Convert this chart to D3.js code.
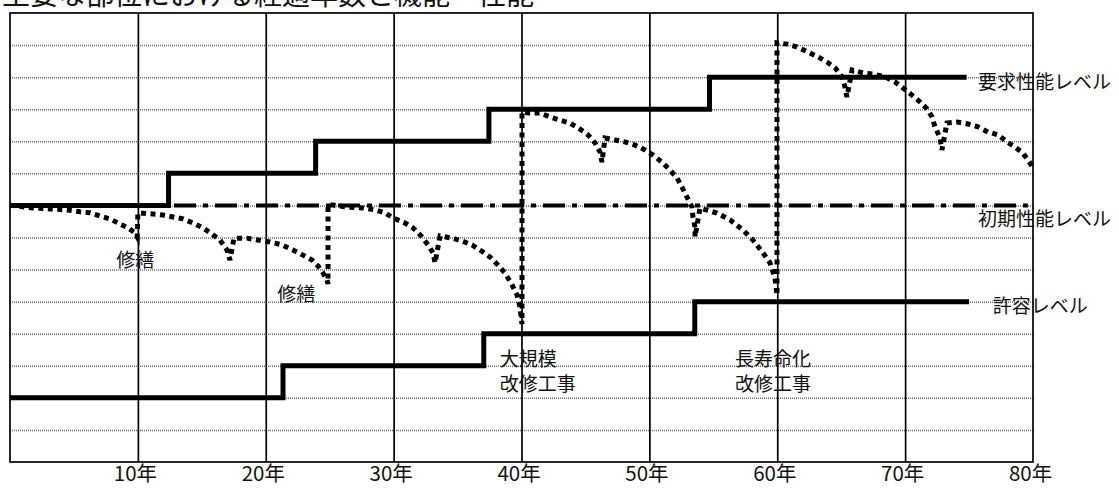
<!DOCTYPE html>
<html><head><meta charset="utf-8">
<script src="https://cdn.jsdelivr.net/npm/d3@7"></script>
<style>html,body{margin:0;padding:0;background:#fff;overflow:hidden}</style>
</head><body>
<svg id="c" width="1119" height="489"></svg>
<script>
const title = "主要な部位における経過年数と機能・性能";
const yearTicks = [10, 20, 30, 40, 50, 60, 70, 80];
const tickLabels = ["10年", "20年", "30年", "40年", "50年", "60年", "70年", "80年"];
const levelTicks = [1,2,3,4,5,6,7,8,9,10,11,12,13];
const initialLevel = 8;
const initialEnd = 79.6;
const requiredSteps = [[0,8],[12.4,9],[23.9,10],[37.45,11],[54.7,12],[74.8,12]];
const allowableSteps = [[0,2],[21.35,3],[37.05,4],[53.55,5],[75,5]];
const performance = [
 [0,8.01],[1.8,7.92],[3.13,7.89],[4.46,7.86],[5.47,7.8],[6.26,7.77],[7.04,7.67],[7.82,7.58],[8.45,7.45],[9.23,7.3],[9.78,7.14],[9.95,7.02],
 [10.0,7.76],[10.4,7.76],[11.18,7.73],[11.96,7.7],[12.75,7.64],[13.53,7.58],[14.31,7.45],[15.09,7.3],[15.8,7.11],[16.42,6.92],[16.97,6.61],[17.2,6.3],
 [17.52,6.98],[18.53,6.98],[19.39,6.92],[20.33,6.86],[21.27,6.77],[22.13,6.61],[22.91,6.45],[23.62,6.3],[24.09,6.11],[24.48,5.89],[24.79,5.68],[24.87,5.55],
 [24.87,8.01],[25.26,8.01],[26.35,7.95],[27.6,7.92],[28.54,7.86],[29.33,7.77],[29.95,7.61],[30.89,7.45],[31.52,7.3],[32.22,7.02],[32.69,6.77],[33.08,6.52],[33.24,6.21],
 [33.63,7.05],[34.57,6.98],[35.35,6.89],[36.13,6.77],[36.76,6.61],[37.54,6.39],[38.16,6.14],[38.71,5.89],[39.26,5.52],[39.65,5.21],[39.88,4.83],[40.04,4.3],
 [40.04,10.91],[40.66,10.88],[41.45,10.88],[42.23,10.76],[43.01,10.66],[43.79,10.57],[44.57,10.38],[45.2,10.2],[45.75,9.95],[46.14,9.67],[46.29,9.35],
 [46.53,10.1],[47.31,10.04],[48.09,9.98],[48.88,9.88],[49.66,9.73],[50.28,9.57],[50.99,9.35],[51.61,9.1],[52.16,8.86],[52.55,8.57],[52.94,8.26],[53.33,7.95],[53.41,7.64],[53.57,7.33],[53.57,7.02],
 [53.96,7.92],[55.29,7.76],[56.31,7.55],[57.32,7.23],[58.1,6.92],[58.89,6.52],[59.43,6.21],[59.82,5.74],[59.98,5.2],
 [59.98,13.07],[60.76,13.03],[61.55,12.94],[62.41,12.78],[63.19,12.63],[63.89,12.47],[64.52,12.29],[65.06,12.01],[65.3,11.69],[65.45,11.38],
 [65.85,12.22],[66.71,12.13],[67.49,12.1],[68.43,12.01],[69.21,11.85],[69.83,11.66],[70.54,11.44],[71.16,11.23],[71.71,11.01],[72.1,10.76],[72.34,10.45],[72.73,10.1],[72.88,9.73],
 [73.27,10.57],[74.06,10.6],[74.92,10.54],[75.7,10.45],[76.48,10.29],[77.26,10.2],[77.97,9.98],[78.59,9.82],[79.22,9.63],[79.77,9.32],[80,9.17]
];
const annotationTexts = ["修繕","修繕","大規模","改修工事","長寿命化","改修工事","要求性能レベル","初期性能レベル","許容レベル"];
const annotationYears = [8.3, 20.9, 38.3, 38.3, 56.7, 56.7, 75.7, 75.7, 76.85];
const annotationValues = [6.36, 5.3, 3.27, 2.49, 3.27, 2.49, 11.91, 7.61, 4.9];

const svg = d3.select("#c");
const x = d3.scaleLinear().domain([0, 80]).range([10, 1033]);
const y = d3.scaleLinear().domain([0, 14]).range([462, 13]);
const FONT = "'Noto Sans CJK JP','Noto Sans',sans-serif";

svg.append("text").attr("x", 2).attr("y", 5).attr("font-family", FONT)
  .attr("font-size", 28).attr("fill", "#111").text(title);

// horizontal grid (dotted gray)
svg.append("g").call(d3.axisLeft(y).tickValues(levelTicks).tickSize(-(x(80) - x(0))).tickFormat(""))
  .attr("transform", `translate(${x(0)},0)`)
  .call(g => g.select(".domain").remove())
  .call(g => g.selectAll("line").attr("stroke", "#6e6e6e").attr("stroke-width", 1.5).attr("stroke-dasharray", "1,1"));

// vertical grid
svg.append("g").call(d3.axisBottom(x).tickValues(yearTicks.slice(0, -1)).tickSize(-(y(0) - y(14))).tickFormat(""))
  .attr("transform", `translate(0,${y(0)})`)
  .call(g => g.select(".domain").remove())
  .call(g => g.selectAll("line").attr("stroke", "#000").attr("stroke-width", 1.7));

// border
svg.append("rect").attr("x", x(0)).attr("y", y(14)).attr("width", x(80) - x(0)).attr("height", y(0) - y(14))
  .attr("fill", "none").attr("stroke", "#000").attr("stroke-width", 1.7);

// tick labels
const xa = svg.append("g").attr("transform", `translate(0,${y(0)})`)
  .call(d3.axisBottom(x).tickValues(yearTicks).tickSize(0).tickFormat((d, i) => tickLabels[i]));
xa.select(".domain").remove();
xa.selectAll("text").attr("font-family", FONT).attr("font-size", 20.5).attr("fill", "#111")
  .attr("dy", null).attr("y", 10).attr("dominant-baseline", "central").attr("dx", -3);

const line = d3.line().x(d => x(d[0])).y(d => y(d[1]));

// initial level dash-dot
svg.append("path").datum([[0, initialLevel], [initialEnd, initialLevel]]).attr("d", line)
  .attr("fill", "none").attr("stroke", "#000").attr("stroke-width", 4)
  .attr("stroke-dasharray", "22,7,5,7");

// step lines
const step = d3.line().x(d => x(d[0])).y(d => y(d[1])).curve(d3.curveStepAfter);
[requiredSteps, allowableSteps].forEach(s => {
  svg.append("path").datum(s).attr("d", step).attr("fill", "none")
    .attr("stroke", "#000").attr("stroke-width", 5).attr("stroke-linejoin", "miter");
});

// performance curve
svg.append("path").datum(performance).attr("d", line).attr("fill", "none")
  .attr("stroke", "#000").attr("stroke-width", 5).attr("stroke-dasharray", "5,4.5");

// annotations
svg.append("g").selectAll("text").data(annotationTexts).join("text")
  .attr("x", (d, i) => x(annotationYears[i])).attr("y", (d, i) => y(annotationValues[i]))
  .attr("dominant-baseline", "central").attr("font-family", FONT).attr("font-size", 19)
  .attr("fill", "#111").text(d => d);
</script>
</body></html>
